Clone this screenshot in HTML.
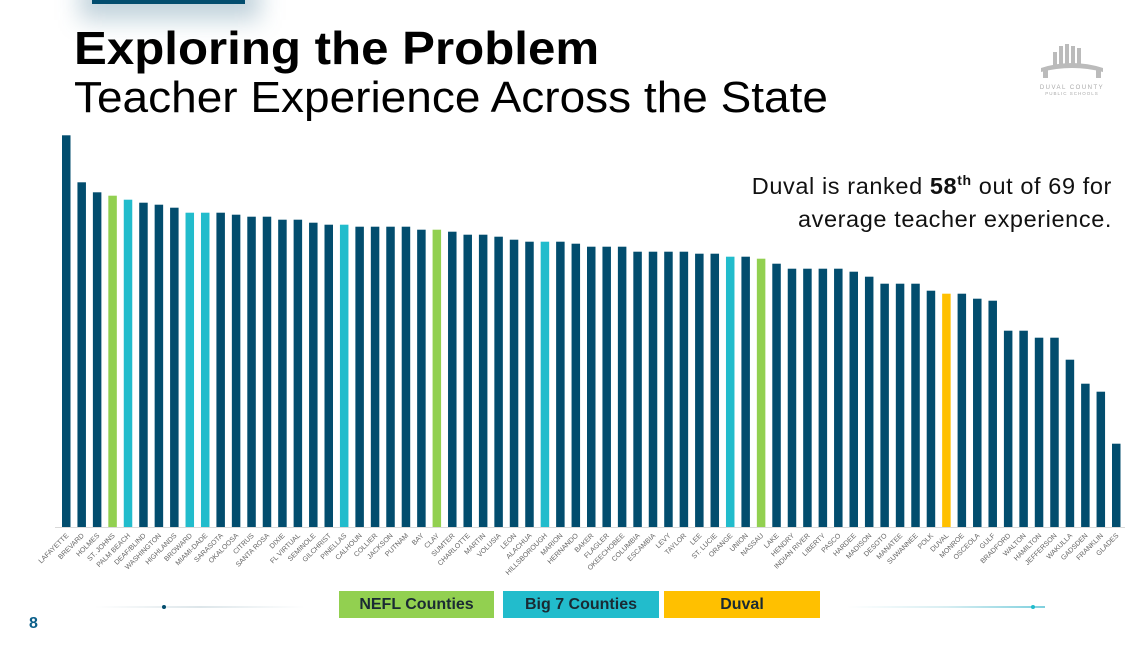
<!DOCTYPE html>
<html><head><meta charset="utf-8"><style>
body{margin:0;width:1147px;height:645px;background:#fff;overflow:hidden;font-family:"Liberation Sans",sans-serif;position:relative}
.abs{position:absolute}
</style></head><body>
<div class="abs" style="left:80px;top:-20px;width:180px;height:40px;background:rgba(2,77,110,0.25);filter:blur(12px)"></div>
<div class="abs" style="left:92px;top:0;width:153px;height:4px;background:#024d6e"></div>
<div class="abs" style="left:74px;top:21px;font-size:46px;font-weight:bold;color:#000;transform:scaleX(1.07);transform-origin:left top;white-space:nowrap">Exploring the Problem</div>
<div class="abs" style="left:74px;top:73px;font-size:44px;color:#000;transform:scaleX(1.045);transform-origin:left top;white-space:nowrap">Teacher Experience Across the State</div>
<div class="abs" style="left:1036px;top:42px;width:72px;text-align:center;color:#aaa">
<svg width="70" height="38" viewBox="0 0 70 38"><g fill="#bbb"><rect x="22" y="4" width="4" height="20"/><rect x="28" y="2" width="4" height="22"/><rect x="34" y="4" width="4" height="20"/><rect x="40" y="6" width="4" height="18"/><rect x="16" y="10" width="4" height="14"/><path d="M4 26 Q35 16 66 26 L66 30 Q35 22 4 30Z"/><rect x="6" y="28" width="5" height="8"/><rect x="59" y="28" width="5" height="8"/></g></svg>
<div style="font-size:6px;letter-spacing:1.5px;color:#aaa">DUVAL COUNTY</div><div style="font-size:4.5px;letter-spacing:1px;color:#aaa">PUBLIC SCHOOLS</div></div>
<div class="abs" style="right:35px;top:164px;font-size:23.5px;letter-spacing:0.6px;color:#111;text-align:right;line-height:33px;white-space:nowrap">Duval is ranked <b>58<sup style="font-size:14px">th</sup></b> out of 69 for<br>average teacher experience.</div>
<svg class="abs" style="left:0;top:0" width="1147" height="645" id="chart"></svg>
<div class="abs" style="left:95px;top:606px;width:210px;height:2px;background:linear-gradient(90deg,#fff,#dde6ea,#fff)"></div>
<div class="abs" style="left:162px;top:605px;width:4px;height:4px;border-radius:2px;background:#024d6e"></div>
<div class="abs" style="left:847px;top:606px;width:198px;height:2px;background:linear-gradient(90deg,#fff,#d8eef2,#7fd0de)"></div>
<div class="abs" style="left:1031px;top:605px;width:4px;height:4px;border-radius:2px;background:#22bccc"></div>
<div class="abs" style="left:339px;top:591px;width:155px;height:27px;background:#92d050;font-size:16px;font-weight:bold;color:#1a2a33;text-align:center;line-height:27px">NEFL Counties</div>
<div class="abs" style="left:503px;top:591px;width:156px;height:27px;background:#22bccc;font-size:16px;font-weight:bold;color:#1a2a33;text-align:center;line-height:27px">Big 7 Counties</div>
<div class="abs" style="left:664px;top:591px;width:156px;height:27px;background:#ffc000;font-size:16px;font-weight:bold;color:#1a2a33;text-align:center;line-height:27px">Duval</div>
<div class="abs" style="left:29px;top:615px;font-size:16px;font-weight:bold;color:#0b5f8a">8</div>
<script>
const categories=["LAFAYETTE","BREVARD","HOLMES","ST. JOHNS","PALM BEACH","DEAF/BLIND","WASHINGTON","HIGHLANDS","BROWARD","MIAMI-DADE","SARASOTA","OKALOOSA","CITRUS","SANTA ROSA","DIXIE","FL VIRTUAL","SEMINOLE","GILCHRIST","PINELLAS","CALHOUN","COLLIER","JACKSON","PUTNAM","BAY","CLAY","SUMTER","CHARLOTTE","MARTIN","VOLUSIA","LEON","ALACHUA","HILLSBOROUGH","MARION","HERNANDO","BAKER","FLAGLER","OKEECHOBEE","COLUMBIA","ESCAMBIA","LEVY","TAYLOR","LEE","ST. LUCIE","ORANGE","UNION","NASSAU","LAKE","HENDRY","INDIAN RIVER","LIBERTY","PASCO","HARDEE","MADISON","DESOTO","MANATEE","SUWANNEE","POLK","DUVAL","MONROE","OSCEOLA","GULF","BRADFORD","WALTON","HAMILTON","JEFFERSON","WAKULLA","GADSDEN","FRANKLIN","GLADES"];
const values=[391.7,344.7,334.7,331.3,327.3,324.3,322.3,319.3,314.3,314.3,314.3,312.3,310.3,310.3,307.3,307.3,304.3,302.3,302.3,300.3,300.3,300.3,300.3,297.3,297.3,295.3,292.3,292.3,290.3,287.3,285.3,285.3,285.3,283.3,280.3,280.3,280.3,275.3,275.3,275.3,275.3,273.3,273.3,270.3,270.3,268.3,263.3,258.3,258.3,258.3,258.3,255.3,250.3,243.3,243.3,243.3,236.3,233.3,233.3,228.3,226.3,196.3,196.3,189.3,189.3,167.3,143.3,135.3,83.3];
const groups=["o","o","o","n","b","o","o","o","b","b","o","o","o","o","o","o","o","o","b","o","o","o","o","o","n","o","o","o","o","o","o","b","o","o","o","o","o","o","o","o","o","o","o","b","o","n","o","o","o","o","o","o","o","o","o","o","o","d","o","o","o","o","o","o","o","o","o","o","o"];
const colorMap={o:"#024d6e",n:"#92d050",b:"#22bccc",d:"#ffc000"};
const svg=document.getElementById('chart');
const NS="http://www.w3.org/2000/svg";
const x0=66,x1=1116,base=527,pxPerUnit=1;
const xPos=i=>x0+i*(x1-x0)/(categories.length-1);
const yPos=v=>base-v*pxPerUnit;
const ax=document.createElementNS(NS,'line');
ax.setAttribute('x1',55);ax.setAttribute('x2',1125);ax.setAttribute('y1',base+0.5);ax.setAttribute('y2',base+0.5);ax.setAttribute('stroke','#d9d9d9');


svg.appendChild(ax);
categories.forEach((c,i)=>{
 const r=document.createElementNS(NS,'rect');
 const cx=xPos(i);
 r.setAttribute('x',cx-4);r.setAttribute('width',8.5);
 r.setAttribute('y',yPos(values[i]));r.setAttribute('height',base-yPos(values[i]));
 r.setAttribute('fill',colorMap[groups[i]]);
 
 
 svg.appendChild(r);
 const t=document.createElementNS(NS,'text');
 t.setAttribute('x',cx+3);t.setAttribute('y',base+9);
 t.setAttribute('text-anchor','end');
 t.setAttribute('transform','rotate(-45 '+(cx+3)+' '+(base+9)+')');
 t.setAttribute('font-size','7');t.setAttribute('fill','#666');
 t.setAttribute('font-family','Liberation Sans, sans-serif');
 t.textContent=c;
 
 
 svg.appendChild(t);
});
</script>
</body></html>
